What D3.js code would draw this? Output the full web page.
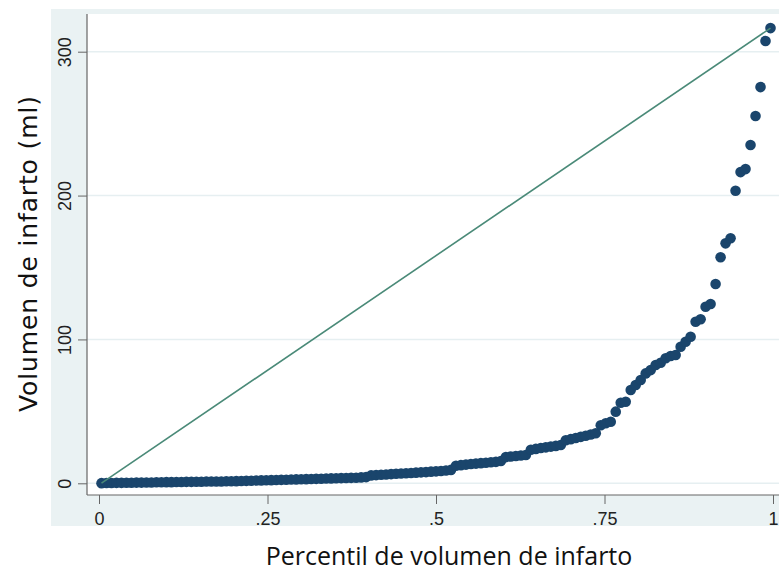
<!DOCTYPE html>
<html>
<head>
<meta charset="utf-8">
<script src="https://cdn.jsdelivr.net/npm/d3@7"></script>
<style>
  body { margin: 0; background: #fff; }
  svg { display: block; }
</style>
</head>
<body>
<svg width="779" height="572"></svg>
<script>
// infarct volume (ml), sorted, one value per patient
var volumes = [
  0.1, 0.2, 0.2, 0.3, 0.3, 0.4, 0.4, 0.5, 0.5, 0.6,
  0.6, 0.7, 0.7, 0.8, 0.8, 0.9, 0.9, 1.0, 1.0, 1.1,
  1.1, 1.2, 1.2, 1.3, 1.3, 1.4, 1.4, 1.5, 1.6, 1.7,
  1.8, 1.9, 2.0, 2.1, 2.2, 2.3, 2.4, 2.5, 2.6, 2.7,
  2.8, 2.9, 3.0, 3.1, 3.2, 3.3, 3.4, 3.5, 3.6, 3.7,
  3.8, 3.9, 4.1, 4.3, 5.5, 5.7, 5.9, 6.1, 6.4, 6.6,
  6.8, 7.0, 7.2, 7.4, 7.6, 7.8, 8.1, 8.3, 8.6, 8.9,
  9.3, 12.2, 12.6, 13.0, 13.4, 13.7, 14.0, 14.3, 14.6, 14.9,
  15.5, 18.2, 18.6, 19.0, 19.3, 19.7, 23.3, 23.9, 24.5, 25.0,
  25.5, 26.0, 26.6, 29.9, 30.7, 31.5, 32.3, 33.1, 33.9, 34.8,
  40.3, 41.7, 42.8, 49.8, 56.0, 56.7, 64.8, 68.3, 71.8, 76.4,
  78.7, 82.2, 83.8, 86.9, 88.5, 89.2, 94.9, 98.4, 101.9, 112.3,
  114.0, 122.7, 124.6, 138.5, 157.1, 166.8, 170.3, 203.3, 216.3, 218.4,
  235.1, 255.3, 275.4, 307.4, 316.4
];
var xTicks = [0, 0.25, 0.5, 0.75, 1];
var xTickLabels = ["0", ".25", ".5", ".75", "1"];
var yTicks = [0, 100, 200, 300];
var xTitle = "Percentil de volumen de infarto";
var yTitle = "Volumen de infarto (ml)";

var svg = d3.select("svg");
var n = volumes.length;
var points = volumes.map(function(v, i) { return {p: (i + 0.5) / n, v: v}; });

var outer = {left: 51, top: 9, right: 779, bottom: 526};
var plot = {left: 87, top: 14, right: 779, bottom: 495};

var x = d3.scaleLinear().domain([0, 1]).range([99, 773]);
var y = d3.scaleLinear().domain([0, 300]).range([483.3, 51.7]);

// graph region + plot region
svg.append("rect")
    .attr("x", outer.left).attr("y", outer.top)
    .attr("width", outer.right - outer.left).attr("height", outer.bottom - outer.top)
    .attr("fill", "#eaf2f3");
svg.append("rect")
    .attr("x", plot.left).attr("y", plot.top)
    .attr("width", plot.right - plot.left).attr("height", plot.bottom - plot.top)
    .attr("fill", "#fff");

// grid
svg.append("g").selectAll("line")
    .data(yTicks)
  .enter().append("line")
    .attr("x1", plot.left).attr("x2", plot.right)
    .attr("y1", function(d) { return y(d); })
    .attr("y2", function(d) { return y(d); })
    .attr("stroke", "#e6eff1")
    .attr("stroke-width", 1.5);

var tickFont = "18px 'Liberation Sans', Arial, sans-serif";

// y axis
var yAxis = svg.append("g")
    .attr("transform", "translate(" + plot.left + ",0)")
    .call(d3.axisLeft(y).tickValues(yTicks).tickSize(9).tickPadding(0));
yAxis.select(".domain").remove();
yAxis.selectAll(".tick line").attr("stroke", "#666");
yAxis.selectAll(".tick text")
    .attr("transform", "rotate(-90)")
    .attr("x", 0).attr("y", -16).attr("dy", 0)
    .attr("text-anchor", "middle")
    .attr("fill", "#222")
    .style("font", tickFont);

// x axis
var xAxis = svg.append("g")
    .attr("transform", "translate(0," + plot.bottom + ")")
    .call(d3.axisBottom(x).tickValues(xTicks).tickSize(9).tickPadding(0)
      .tickFormat(function(d, i) { return xTickLabels[i]; }));
xAxis.select(".domain").remove();
xAxis.selectAll(".tick line").attr("stroke", "#666");
xAxis.selectAll(".tick text")
    .attr("y", 30).attr("dy", 0)
    .attr("fill", "#222")
    .style("font", tickFont);

// axis lines
svg.append("line")
    .attr("x1", plot.left).attr("x2", plot.left)
    .attr("y1", plot.top).attr("y2", plot.bottom)
    .attr("stroke", "#666").attr("stroke-width", 1.2);
svg.append("line")
    .attr("x1", plot.left).attr("x2", plot.right)
    .attr("y1", plot.bottom).attr("y2", plot.bottom)
    .attr("stroke", "#666").attr("stroke-width", 1.2);

// points
svg.append("g").selectAll("circle")
    .data(points)
  .enter().append("circle")
    .attr("cx", function(d) { return x(d.p); })
    .attr("cy", function(d) { return y(d.v); })
    .attr("r", 5.3)
    .attr("fill", "#1a456c");

// reference line from min to max
var first = points[0], last = points[n - 1];
svg.append("line")
    .attr("x1", x(first.p)).attr("y1", y(first.v))
    .attr("x2", x(last.p)).attr("y2", y(last.v))
    .attr("stroke", "#4a8a78")
    .attr("stroke-width", 1.6);

// titles
svg.append("text")
    .attr("x", 449).attr("y", 565)
    .attr("text-anchor", "middle")
    .attr("fill", "#111")
    .style("font", "25px 'Open Sans', sans-serif")
    .text(xTitle);
svg.append("text")
    .attr("transform", "translate(37,254) rotate(-90)")
    .attr("text-anchor", "middle")
    .attr("fill", "#111")
    .attr("textLength", 316)
    .attr("lengthAdjust", "spacing")
    .style("font", "25px 'DejaVu Sans', sans-serif")
    .text(yTitle);
</script>
</body>
</html>
